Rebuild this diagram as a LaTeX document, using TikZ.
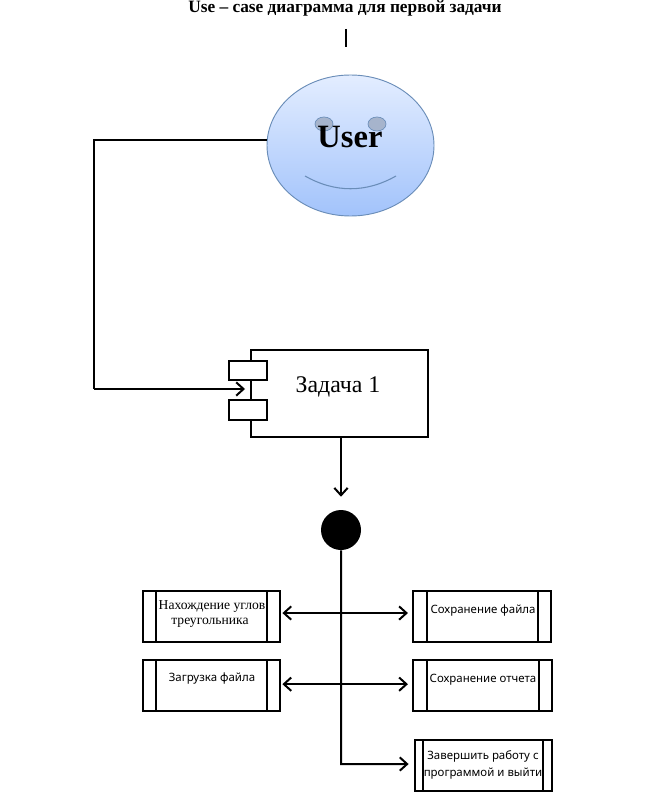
\documentclass[tikz,border=0pt]{standalone}
\usepackage{fontspec}
\setmainfont{Liberation Serif}
\newfontfamily\uisans{Noto Sans}
\usetikzlibrary{arrows.meta,shapes.geometric}
\definecolor{faceline}{HTML}{6A8DB8}
\definecolor{facetop}{HTML}{E3EDFF}
\definecolor{facebottom}{HTML}{A2C3FB}
\definecolor{eyefill}{HTML}{A6B4CC}
\tikzset{
  barb/.tip={Straight Barb[length=5.5pt,width=10pt,line width=1.5pt]},
  wire/.style={draw=black,line width=1.5pt,-barb},
  wireboth/.style={draw=black,line width=1.5pt,barb-barb},
  plainwire/.style={draw=black,line width=1.5pt},
  procbox/.style n args={3}{draw=black,line width=1.6pt,fill=white,rectangle,inner sep=0pt,
    minimum width=#1*0.75pt,minimum height=51*0.75pt,
    path picture={
      \draw[line width=1.5pt] ([xshift=#2*0.75pt]path picture bounding box.north west) -- ([xshift=#2*0.75pt]path picture bounding box.south west);
      \draw[line width=1.5pt] ([xshift=-#3*0.75pt]path picture bounding box.north east) -- ([xshift=-#3*0.75pt]path picture bounding box.south east);
    }},
  serifcap/.style={font=\fontsize{10.2pt}{12pt}\selectfont,inner sep=0pt},
  sanscap/.style={font=\uisans\fontsize{8.6pt}{10pt}\selectfont,inner sep=0pt},
  eye/.style={ellipse,draw=faceline,fill=eyefill,line width=0.5pt,minimum width=18*0.75pt,minimum height=14*0.75pt,inner sep=0pt},
  compbox/.style={draw=black,line width=1.4pt,fill=white,rectangle,inner sep=0pt},
}
\begin{document}
\begin{tikzpicture}[x=0.75pt,y=-0.75pt]
\useasboundingbox (0,0) rectangle (661,805);
\node[font=\bfseries\fontsize{13pt}{14pt}\selectfont,inner sep=0pt] (title) at (345,8) {Use – case диаграмма для первой задачи};
\coordinate (bartop) at (346,29);
\coordinate (barbot) at (346,47);
\draw[plainwire] (bartop) -- (barbot);

% user face
\node[ellipse,draw=faceline,line width=0.7pt,top color=facetop,bottom color=facebottom,
  minimum width=167*0.75pt,minimum height=141*0.75pt,inner sep=0pt] (user) at (350.5,145.5) {};
\node[eye] (eyeL) at (324,124) {};
\node[eye] (eyeR) at (377,124) {};
\node[font=\bfseries\fontsize{24.4pt}{26pt}\selectfont,inner sep=0pt] (usertext) at (350,137) {User};
\draw[faceline,line width=0.8pt] (305,176) .. controls (335,193) and (366,193) .. (396,176);

% component
\node[compbox,minimum width=177*0.75pt,minimum height=87*0.75pt] (comp) at (339.5,393.5) {};
\node[compbox,minimum width=38*0.75pt,minimum height=19*0.75pt] (port1) at (248,370.5) {};
\node[compbox,minimum width=38*0.75pt,minimum height=20*0.75pt] (port2) at (248,410) {};
\node[font=\fontsize{17.9pt}{20pt}\selectfont,inner sep=0pt] (comptext) at (338,387) {Задача 1};

\coordinate (bendB) at (94,389);
\coordinate (compin) at (245,389);
\draw[plainwire] (user.176) -| (bendB);
\draw[wire] (bendB) -- (compin);

% junction
\node[circle,fill=black,minimum size=40*0.75pt,inner sep=0pt] (junction) at (341,530) {};
\draw[wire] (comp.south -| junction) -- ([yshift=9.75pt]junction.north);

% boxes
\node[procbox={137}{13}{13}] (left1) at (211.5,616.5) {};
\node[procbox={137}{13}{13}] (left2) at (211.5,685.5) {};
\node[procbox={138}{14}{13}] (right1) at (482,616.5) {};
\node[procbox={139}{14}{13}] (right2) at (482.5,685.5) {};
\node[procbox={137}{8}{9}] (right3) at (483.5,765.5) {};

\node[serifcap,align=center] (left1a) at (212,607) {Нахождение углов};
\node[serifcap,align=center] (left1b) at (210,623) {треугольника};
\node[sanscap] (left2t) at (212,679) {Загрузка файла};
\node[sanscap] (right1t) at (483,611) {Сохранение файла};
\node[sanscap] (right2t) at (483,680) {Сохранение отчета};
\node[sanscap] (right3a) at (483,756) {Завершить работу с};
\node[sanscap] (right3b) at (483,774) {программой и выйти};

% connectors
\coordinate (bendC) at (341,764);
\draw[wire] (junction.south) -- (bendC) -- ([xshift=-4pt,yshift=1.1pt]right3.west);
\draw[wireboth] ([xshift=1pt,yshift=2.6pt]left1.east) -- ([xshift=-3pt,yshift=2.6pt]right1.west);
\draw[wireboth] ([xshift=1pt,yshift=1pt]left2.east) -- ([xshift=-3pt,yshift=1pt]right2.west);
\end{tikzpicture}
\end{document}
